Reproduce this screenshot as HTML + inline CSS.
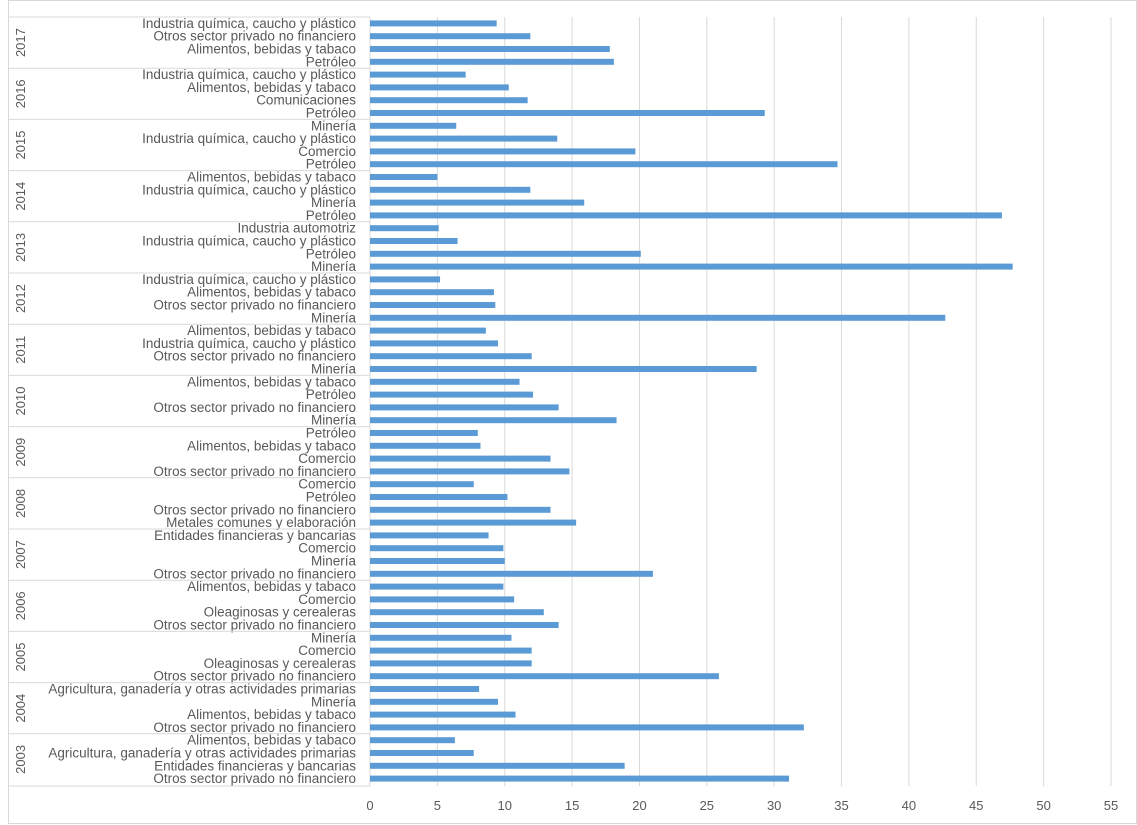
<!DOCTYPE html>
<html><head><meta charset="utf-8"><style>
body{margin:0;background:#fff}
svg{display:block;font-family:"Liberation Sans",sans-serif}
</style></head><body>
<svg id="chart" width="1137" height="825" xmlns="http://www.w3.org/2000/svg"></svg>
<script>
const years=["2017","2016","2015","2014","2013","2012","2011","2010","2009","2008","2007","2006","2005","2004","2003"];
const categories=[
["Industria química, caucho y plástico","Otros sector privado no financiero","Alimentos, bebidas y tabaco","Petróleo"],
["Industria química, caucho y plástico","Alimentos, bebidas y tabaco","Comunicaciones","Petróleo"],
["Minería","Industria química, caucho y plástico","Comercio","Petróleo"],
["Alimentos, bebidas y tabaco","Industria química, caucho y plástico","Minería","Petróleo"],
["Industria automotriz","Industria química, caucho y plástico","Petróleo","Minería"],
["Industria química, caucho y plástico","Alimentos, bebidas y tabaco","Otros sector privado no financiero","Minería"],
["Alimentos, bebidas y tabaco","Industria química, caucho y plástico","Otros sector privado no financiero","Minería"],
["Alimentos, bebidas y tabaco","Petróleo","Otros sector privado no financiero","Minería"],
["Petróleo","Alimentos, bebidas y tabaco","Comercio","Otros sector privado no financiero"],
["Comercio","Petróleo","Otros sector privado no financiero","Metales comunes y elaboración"],
["Entidades financieras y bancarias","Comercio","Minería","Otros sector privado no financiero"],
["Alimentos, bebidas y tabaco","Comercio","Oleaginosas y cerealeras","Otros sector privado no financiero"],
["Minería","Comercio","Oleaginosas y cerealeras","Otros sector privado no financiero"],
["Agricultura, ganadería y otras actividades primarias","Minería","Alimentos, bebidas y tabaco","Otros sector privado no financiero"],
["Alimentos, bebidas y tabaco","Agricultura, ganadería y otras actividades primarias","Entidades financieras y bancarias","Otros sector privado no financiero"]];
const values=[
[9.4,11.9,17.8,18.1],[7.1,10.3,11.7,29.3],[6.4,13.9,19.7,34.7],[5.0,11.9,15.9,46.9],
[5.1,6.5,20.1,47.7],[5.2,9.2,9.3,42.7],[8.6,9.5,12.0,28.7],[11.1,12.1,14.0,18.3],
[8.0,8.2,13.4,14.8],[7.7,10.2,13.4,15.3],[8.8,9.9,10.0,21.0],[9.9,10.7,12.9,14.0],
[10.5,12.0,12.0,25.9],[8.1,9.5,10.8,32.2],[6.3,7.7,18.9,31.1]];
const ticks=[0,5,10,15,20,25,30,35,40,45,50,55];
const svg=document.getElementById('chart');
const NS='http://www.w3.org/2000/svg';
const x0=370,x1=1111,xmax=55,topY=17,rowH=12.8;
const xs=v=>x0+v/xmax*(x1-x0);
function mk(t,a,txt){const e=document.createElementNS(NS,t);for(const k in a)e.setAttribute(k,a[k]);if(txt!==undefined)e.textContent=txt;svg.appendChild(e);return e;}
let e=mk('rect',{x:8.5,y:0.5,width:1128,height:823,fill:'none',stroke:'#d9d9d9'});


ticks.forEach(t=>{
 if(t>0){e=mk('line',{x1:xs(t),x2:xs(t),y1:topY,y2:786,stroke:'#d9d9d9'});
 
 }
 e=mk('text',{x:xs(t),y:810,'text-anchor':'middle','font-size':13,fill:'#595959'},t);
 
 
});
e=mk('line',{x1:x0,x2:x0,y1:topY,y2:786,stroke:'#d9d9d9'});


years.forEach((y,g)=>{
 const gy=topY+g*4*rowH;
 e=mk('line',{x1:8,x2:x0,y1:gy,y2:gy,stroke:'#d9d9d9'});
 
 
 const cy=gy+2*rowH;
 e=mk('text',{x:0,y:0,transform:`translate(25,${cy}) rotate(-90)`,'text-anchor':'middle','font-size':13,fill:'#595959'},y);
 
 
 categories[g].forEach((c,i)=>{
  const ry=gy+i*rowH+rowH/2;
  e=mk('text',{x:356,y:ry+4.5,'text-anchor':'end','font-size':13.5,fill:'#595959'},c);
  
  
  e=mk('rect',{x:x0,y:ry-3,width:xs(values[g][i])-x0,height:6,fill:'#5b9bd5'});
  
  
 });
});
e=mk('line',{x1:8,x2:x0,y1:786,y2:786,stroke:'#d9d9d9'});


</script>
</body></html>
